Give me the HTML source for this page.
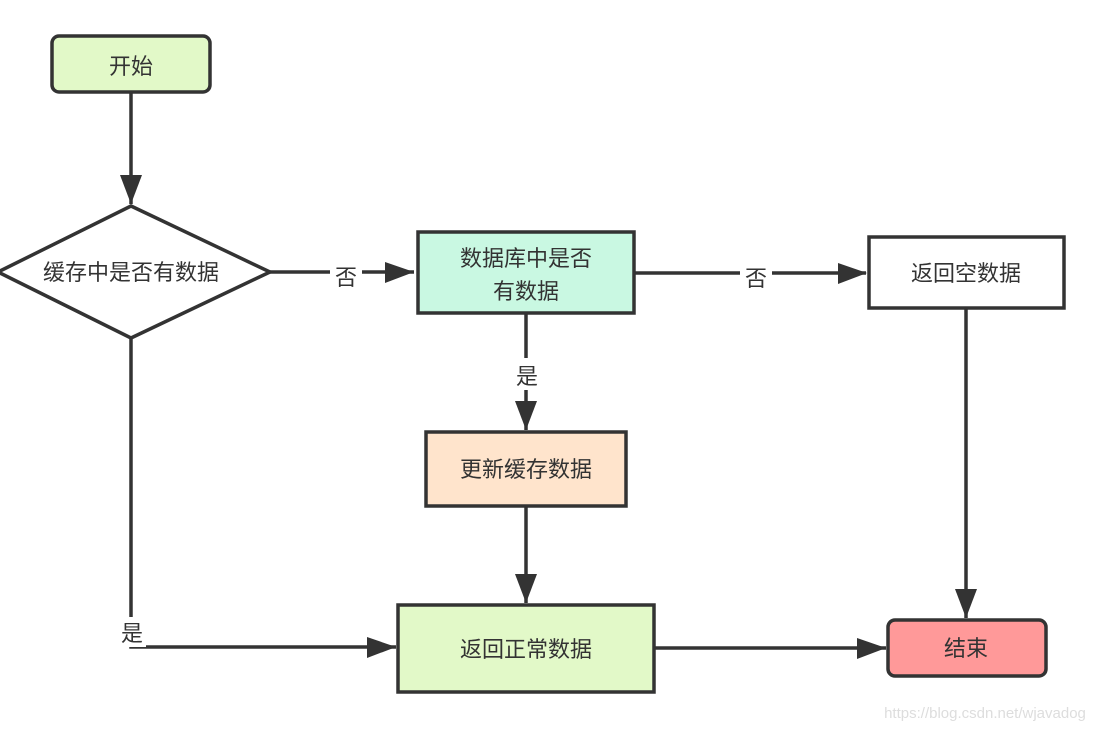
<!DOCTYPE html>
<html><head><meta charset="utf-8"><style>
html,body{margin:0;padding:0;background:#fff;}
svg text{font-family:"Liberation Sans","Noto Sans CJK SC",sans-serif;fill:#333;font-size:22px;text-anchor:middle;}
</style></head><body>
<svg width="1100" height="730" viewBox="0 0 1100 730" xmlns="http://www.w3.org/2000/svg">
<defs><marker id="a" markerWidth="10" markerHeight="10" refX="9" refY="5" orient="auto" markerUnits="userSpaceOnUse"><path d="M0,0 L10,5 L0,10z" fill="#333"/></marker></defs>
<g stroke="#333" stroke-width="3.5" fill="none">
<path d="M131,92 V204" />
<path d="M270,272 H414" />
<path d="M634,273 H866" />
<path d="M526,313 V430" />
<path d="M526,506 V603" />
<path d="M966,308 V618" />
<path d="M131,338 V647 H396" />
<path d="M654,648 H886" />
</g>
<g fill="#333">
<path d="M120,175 L142,175 L131,204z"/>
<path d="M385,262 L414,272 L385,283z"/>
<path d="M838,263 L867,273 L838,284z"/>
<path d="M515,401 L537,401 L526,430z"/>
<path d="M515,574 L537,574 L526,603z"/>
<path d="M955,589 L977,589 L966,618z"/>
<path d="M367,637 L396,647 L367,658z"/>
<path d="M857,638 L886,648 L857,659z"/>
</g>
<g stroke="#333" stroke-width="3.5">
<rect x="52" y="36" width="158" height="56" rx="7" fill="#e2f9c8"/>
<path d="M-2,272 L131,206 L270,272 L131,338z" fill="#fff"/>
<rect x="418" y="232" width="216" height="81" fill="#c9f8e2"/>
<rect x="869" y="237" width="195" height="71" fill="#fff"/>
<rect x="426" y="432" width="200" height="74" fill="#ffe4cc"/>
<rect x="398" y="605" width="256" height="87" fill="#e2f9c8"/>
<rect x="888" y="620" width="158" height="56" rx="7" fill="#ff9999"/>
</g>
<g fill="#fff">
<rect x="330" y="258" width="32" height="30"/>
<rect x="740" y="259" width="32" height="30"/>
<rect x="511" y="358" width="30" height="32"/>
<rect x="116" y="617" width="30" height="30"/>
</g>
<text x="131" y="74">开始</text>
<text x="131" y="280">缓存中是否有数据</text>
<text x="346" y="285">否</text>
<text x="526" y="266">数据库中是否</text>
<text x="526" y="299">有数据</text>
<text x="756" y="286">否</text>
<text x="966" y="281">返回空数据</text>
<text x="527" y="384">是</text>
<text x="526" y="477">更新缓存数据</text>
<text x="132" y="641">是</text>
<text x="526" y="657">返回正常数据</text>
<text x="966" y="656">结束</text>
<text x="985" y="718" style="font-size:15px;fill:#ddd">https://blog.csdn.net/wjavadog</text>
</svg>
</body></html>
